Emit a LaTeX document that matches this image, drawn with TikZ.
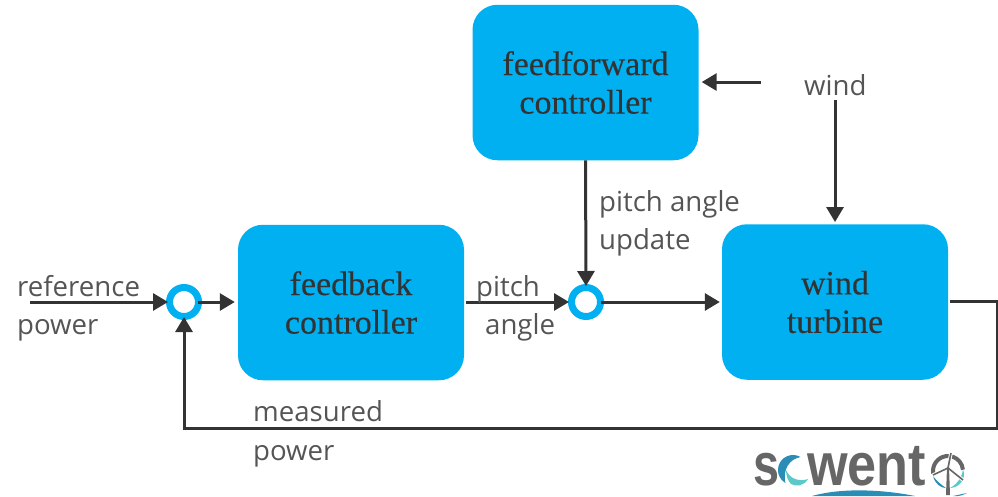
\documentclass[tikz,border=0pt]{standalone}
\usepackage{fontspec}
\setmainfont{Open Sans}
\newfontfamily\boxfont[FakeBold=0.25]{Liberation Serif}
\newfontfamily\logofont{Liberation Sans}
\usetikzlibrary{arrows.meta}
\definecolor{skyb}{HTML}{00B0F0}
\definecolor{ink}{HTML}{333333}
\definecolor{labelc}{HTML}{555555}
\definecolor{logog}{HTML}{666666}
\definecolor{logot}{HTML}{5CC8C8}
\definecolor{logob}{HTML}{2A8DB5}
\tikzset{
  ctrl/.style={fill=skyb,rounded corners=25pt,minimum width=226pt,minimum height=155.5pt,inner sep=0pt,align=center,
    text=ink,font=\boxfont\fontsize{34}{38.5}\selectfont},
  sumring/.style={circle,draw=skyb,line width=7pt,fill=white,minimum size=29pt,inner sep=0pt},
  lab/.style={text=labelc,font=\fontsize{27.6}{30}\selectfont,inner sep=0pt,anchor=base west},
  conn/.style={draw=ink,line width=3pt,-{Triangle[length=15pt,width=17pt]}},
  logotxt/.style={inner sep=0pt,anchor=base west,text=logog,font=\logofont\bfseries\fontsize{60}{62}\selectfont,transform shape},
}
\begin{document}
\begin{tikzpicture}[x=1pt,y=-1pt]
\useasboundingbox (0,0) rectangle (998,496);
\node[ctrl] (ff) at (585.5,82.5) {feedforward\\controller};
\node[ctrl] (fb) at (351,302.5) {feedback\\controller};
\node[ctrl] (wt) at (835,302) {wind\\turbine};
\node[sumring] (s1) at (184,302) {};
\node[sumring] (s2) at (586,302) {};
\coordinate (refstart) at (30,302);
\coordinate (windleft) at (761,82);
\coordinate (windtop) at (835,100);
\coordinate (rightout) at (997.5,301);
\coordinate (rightlow) at (997.5,428);
\coordinate (leftlow) at (184,428);
\draw[conn,shorten >=-2pt] (refstart) -- (s1.west);
\draw[conn,shorten <=-4pt,shorten >=3pt] (s1.east) -- (fb.west |- s1);
\draw[conn,shorten <=2pt,shorten >=-1pt] (fb.east |- s2) -- (s2.west);
\draw[conn,shorten <=-3pt,shorten >=2pt] (s2.east) -- (wt.west |- s2);
\draw[conn,shorten >=-2pt] (ff.south) -- (s2.north);
\draw[conn,shorten >=3pt] (windleft) -- (ff.east |- windleft);
\draw[conn,shorten >=2pt] (windtop) -- (wt.north);
\draw[conn,shorten <=2pt,shorten >=-3pt] (wt.east |- rightout) -- (rightout) -- (rightlow) -- (leftlow) -- (s1.south);
\node[lab] (l1) at (17,296) {reference};
\node[lab] (l2) at (17,334) {power};
\node[lab] (l3) at (476,296) {pitch};
\node[lab] (l4) at (485,334) {angle};
\node[lab] (l5) at (599,211) {pitch angle};
\node[lab] (l6) at (599,249) {update};
\node[lab] (l7) at (804,95) {wind};
\node[lab] (l8) at (253,421) {measured};
\node[lab] (l9) at (253,460) {power};
% logo
\node[logotxt,xscale=.78] (logoS) at (753,485) {s};
\node[logotxt,xscale=.87] (logoW) at (807,485) {went};
\fill[logob] ([shift={(-60:15)}]793,470) arc[start angle=-60,end angle=-240,radius=15]
  .. controls (784,478) and (783,461) .. ([shift={(-60:15)}]793,470) -- cycle;
\fill[logot] (786,470) .. controls (790,479) and (799,482) .. (808,479) .. controls (804,486) and (796,487) .. (791,484) .. controls (788,481) and (786,476) .. (786,470) -- cycle;
\draw[logog,line width=4pt] ([shift={(-190:15)}]948,471) arc[start angle=-190,end angle=-5,radius=15];
\fill[logot] (963,469) .. controls (967,480) and (958,488) .. (950,488) .. controls (956,485) and (962,478) .. (963,469) -- cycle;
\fill[logob] (933,476) .. controls (935,484) and (941,488) .. (946,488) .. controls (940,484) and (936,480) .. (933,476) -- cycle;
\draw[white,line width=3.5pt] (948,468) -- (951,453) (948,468) -- (933,475) (948,468) -- (963,480);
\fill[logog] (947,467) -- (949,467) -- (950,495) -- (946,495) -- cycle;
\draw[logog,line width=1.6pt] (948,468) -- (951,453) (948,468) -- (933,475) (948,468) -- (963,480);
\fill[logob] (812,496) .. controls (840,488) and (880,489) .. (915,496) -- cycle;
\fill[logob] (953,496) .. controls (958,495) and (962,494) .. (967,493) .. controls (963,495) and (960,496) .. (958,496) -- cycle;
\end{tikzpicture}
\end{document}
